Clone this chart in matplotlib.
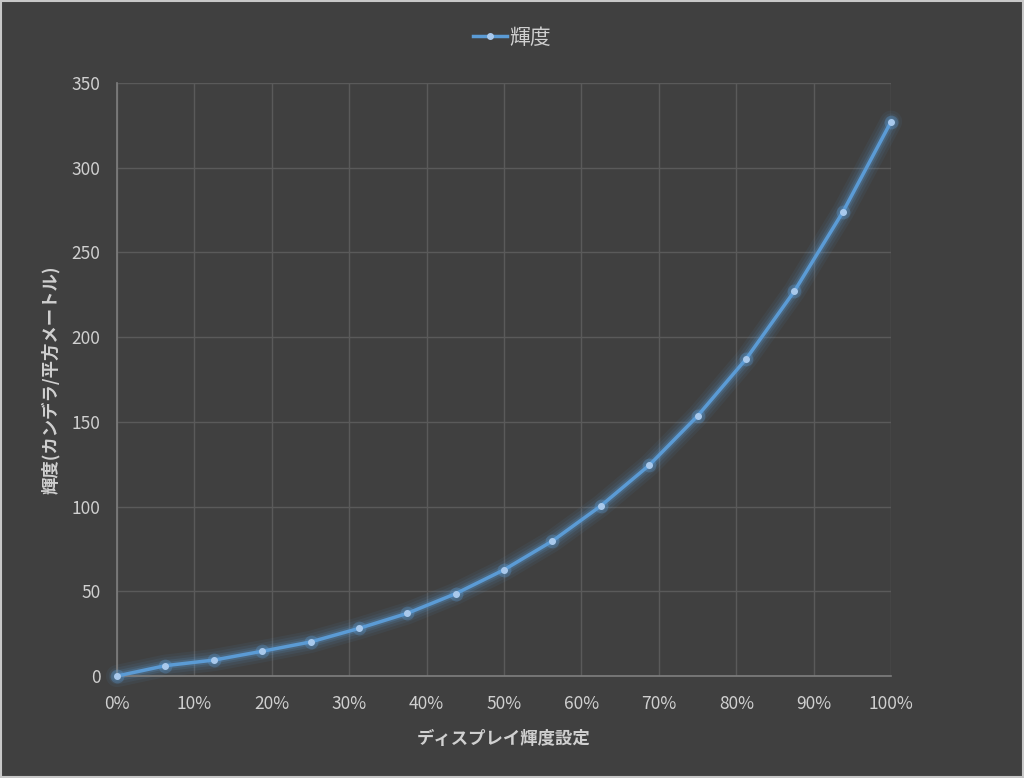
import numpy as np
import matplotlib.pyplot as plt
from matplotlib.ticker import FuncFormatter, MultipleLocator

plt.rcParams['font.family'] = ['Noto Sans CJK JP', 'DejaVu Sans']

# 設定値 (0..1) と輝度 (cd/m^2)
setting = [i / 16 for i in range(17)]
luminance = [0, 6.1, 9.4, 14.6, 20.1, 28.1, 37.0, 48.6, 62.7, 79.7,
             100.4, 124.4, 153.5, 187.0, 227.1, 273.7, 327.2]
series_name = '輝度'

bg = '#404040'
txt = '#d0d0d0'
blue = '#5b9bd5'

fig = plt.figure(figsize=(10.24, 7.78), dpi=100, facecolor=bg)
ax = fig.add_axes([0.1143, 0.1311, 0.7559, 0.7622])
ax.set_facecolor(bg)

# glow under the line
for w, a in [(16, 0.07), (12, 0.09), (8, 0.14), (5, 0.22)]:
    ax.plot(setting, luminance, color=blue, lw=w, alpha=a, clip_on=False,
            solid_capstyle='round', solid_joinstyle='round', zorder=2)
ax.plot(setting, luminance, color=blue, lw=2.5, zorder=3, clip_on=False,
        solid_joinstyle='round', solid_capstyle='round')
ax.scatter(setting, luminance, s=100, color=blue, alpha=0.3, lw=0, zorder=3,
           clip_on=False)
ax.plot(setting, luminance, ls='none', marker='o', ms=4, clip_on=False,
        color='#a9c9ec', zorder=4)
ax.plot([], [], color=blue, lw=2.5, marker='o', ms=4, mfc='#a9c9ec',
        mec='#a9c9ec', label=series_name)

ax.set_xlim(0, 1)
ax.set_ylim(0, 350)
ax.xaxis.set_major_locator(MultipleLocator(0.1))
ax.yaxis.set_major_locator(MultipleLocator(50))
ax.xaxis.set_major_formatter(FuncFormatter(lambda v, p: f'{v * 100:.0f}%'))

ax.grid(True, color='#5a5a5a', lw=1)
ax.set_axisbelow(True)
for s in ['top', 'right']:
    ax.spines[s].set_visible(False)
for s in ['left', 'bottom']:
    ax.spines[s].set_color('#7f7f7f')
    ax.spines[s].set_linewidth(1.2)
ax.tick_params(length=0, colors=txt, labelsize=12.5)
ax.tick_params(axis='x', pad=14)
ax.tick_params(axis='y', pad=12)

ax.set_xlabel('ディスプレイ輝度設定', color=txt, fontsize=12.5,
              fontweight='bold', labelpad=12)
ax.set_ylabel('輝度(カンデラ/平方メートル)', color=txt, fontsize=12.5,
              fontweight='bold', labelpad=8)

leg = fig.legend(loc='upper center', bbox_to_anchor=(0.5, 0.99),
                 frameon=False, fontsize=15, handlelength=1.6,
                 handletextpad=0.1)
for t in leg.get_texts():
    t.set_color(txt)

fig.patches.append(plt.Rectangle((0.001, 0.001), 0.998, 0.998,
                                 transform=fig.transFigure, fill=False,
                                 edgecolor='#c8c8c8', lw=1.5))

fig.savefig('out.png', dpi=100, facecolor=bg)
